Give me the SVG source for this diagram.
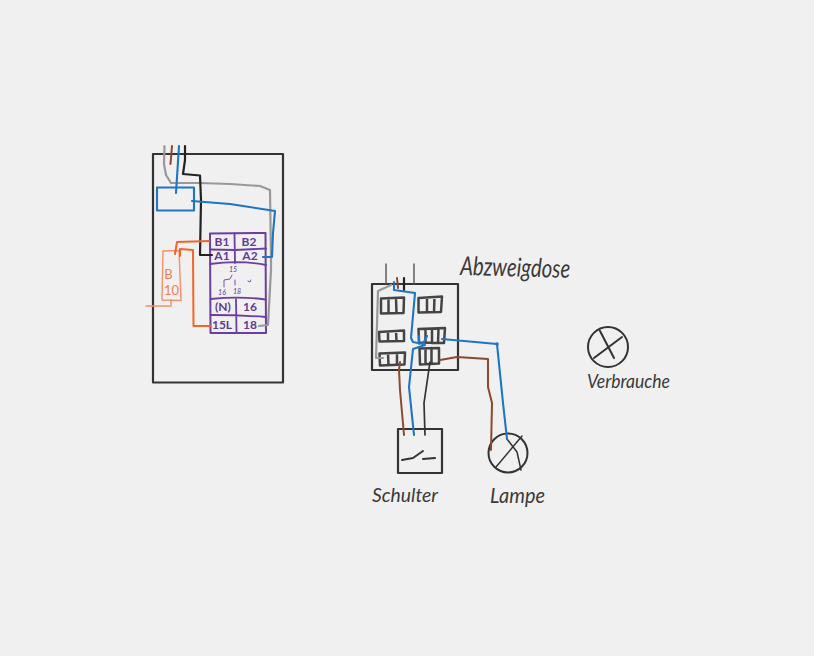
<svg xmlns="http://www.w3.org/2000/svg" width="814" height="656" viewBox="0 0 814 656">
<style>
path,rect,circle{fill:none;stroke-linecap:round;stroke-linejoin:round}
.k{stroke:#333;stroke-width:2}
.box{stroke:#333;stroke-width:2.2}
.t{stroke:#444;stroke-width:2.5}
.blk{stroke:#222;stroke-width:2.2}
.gr{stroke:#999;stroke-width:2.2}
.br{stroke:#8a4a30;stroke-width:2}
.bl{stroke:#1f74c4;stroke-width:2.1}
.or{stroke:#f2652a;stroke-width:2}
.lo{stroke:#f5906a;stroke-width:1.4}
.pu{stroke:#6a3fa0;stroke-width:1.8}
.thin{stroke:#555;stroke-width:1}
text{font-family:"Lato","Liberation Sans",sans-serif}
.lab{fill:#3a3a3a;font-style:italic}
.pt{fill:#5f3a99;font-weight:700;font-size:12px;text-anchor:middle}
.ps{fill:#5f3a99;font-size:7px;text-anchor:middle;font-style:italic}
.ot{fill:#f2804f;font-size:13px;text-anchor:middle}
</style>
<rect width="814" height="656" style="fill:#f0f0f0;stroke:none"/>

<g id="cabinet"><path class="box" d="M153 154L283 154L283 382.500L153 382.500Z"/></g>

<g id="blue-box"><path class="bl" d="M157 187.500L194 187.500L194 210.500L157 210.500Z"/></g>

<g id="relay">
<path class="pu" d="M210 233.500L265.500 233L266 333L210.500 333Z" style="stroke-width:2"/>
<path class="pu" d="M234.500 233.500L235 263M210 249.500L235 250L266 248.500M210 264Q240 260 266 265M210.500 299Q240 296 265.500 299.500M236 299L236.500 332M210.500 315Q240 315 265.500 317"/>
<text class="pt" x="222" y="246">B1</text><text class="pt" x="249" y="246">B2</text>
<text class="pt" x="222" y="260">A1</text><text class="pt" x="250" y="260">A2</text>
<text class="pt" x="223" y="311">(N)</text><text class="pt" x="250" y="311">16</text>
<text class="pt" x="222" y="329">15L</text><text class="pt" x="250" y="329">18</text>
<text class="ps" x="233" y="272">15</text><text class="ps" x="222" y="295">16</text><text class="ps" x="237" y="294">18</text>
<path class="pu" d="M224 287L224 280L230 279L232 275M235 280L235 285M248 281L250 282L251 280" style="stroke-width:.9"/>
</g>

<g id="breaker">
<path class="lo" d="M163 251L179 250.500L181 300.500L162 300Z"/>
<path class="lo" d="M171 300L171 306L146 306"/>
<text class="ot" x="168.500" y="279">B</text><text class="ot" x="171.500" y="295">10</text>
</g>

<g id="junction-box"><path class="box" d="M372 284L458 284L458 370L372 370Z"/></g>
<g id="terminals">
<path class="t" d="M381 298.500L404 297.500L403.500 313L381 313.500ZM388.500 298L388.500 313M396 298L396.500 313"/>
<path class="t" d="M418.500 298L442 296.500L441 312L418.500 312.500ZM427 297.500L427 312.500M434.500 297L434 312"/>
<path class="t" d="M379 332L404 330.500L404 341L379.500 341.500ZM388 331.500L388 341M396 331L396.500 341"/>
<path class="t" d="M418.500 329L445 328L444 343L419 342.500ZM425.500 329L425.500 343M432 328.500L432 343M438.500 328.500L438 343"/>
<path class="t" d="M379.500 353.500L405 352.500L404.500 364.500L380 365.500ZM388 353.500L388.500 365M397 353L397 365"/>
<path class="t" d="M419.500 348.500L439 348L439 363.500L420 364.500ZM425.500 348.500L425.500 364M431.500 348L431.500 364"/>
</g>

<g id="switch">
<path class="box" d="M398 429L442 429L442 473L398 473Z"/>
<path class="k" d="M402 460L413 458L423 451M423 459L435 458"/>
</g>
<g id="lamp">
<circle class="k" cx="508" cy="453" r="19.500"/>
<path class="k" d="M496 467L522 436M507 439L517 452L521 470" style="stroke-width:1.5"/>
</g>
<g id="consumer">
<circle class="k" cx="608" cy="347" r="20"/>
<path class="k" d="M600 331L614 358M594 358L622 337"/>
</g>

<g id="connectors">
<path class="gr" d="M164.500 146L164 164L166 175L171 183L200 183L230 184L260 186L270 190L271 257L271 270L268 325L259 326"/>
<path class="br" d="M172 146L170.500 164"/>
<path class="blk" d="M185 146L185 160L183 174L200 175.500L201 200L200 255L212 255"/>
<path class="bl" d="M179 146L176 193"/>
<path class="bl" d="M192 201L230 204L275 211L273 233L272 257L263 257"/>
<path class="or" d="M175 254L177 242L209 241"/>
<path class="or" d="M180 256L180 249L193 250L193.500 326L211 326"/>
<path class="thin" d="M386 264L386 284M414 264L414 284" style="stroke-width:1.4"/>
<path class="gr" d="M391 285L378 291L376 358L383 358"/>
<path class="br" d="M397 278L398 288"/>
<path class="blk" d="M404 278L404 290"/>
<path class="bl" d="M394 282L394 290L415 293L411 338L413 342L423 344L427 336M419 336L419 344"/>
<path class="bl" d="M425 345L413 349L409 387L414 435"/>
<path class="bl" d="M442 339L497 344L503 403L507 439"/>
<circle cx="497" cy="344" r="1.800" style="fill:#1f74c4;stroke:none"/>
<path class="br" d="M440 360L457 357L488 359L488 387L492 403L491 450"/>
<path class="br" d="M400 362L399 370L400 390L404 435"/>
<path class="k" d="M430 362L424 403L425 435" style="stroke-width:1.7"/>
</g>

<g id="labels">
<text class="lab" x="460" y="275" font-size="26" textLength="110" lengthAdjust="spacingAndGlyphs" transform="rotate(1.500 460 275)">Abzweigdose</text>
<text class="lab" x="372" y="502" font-size="19" textLength="66" lengthAdjust="spacingAndGlyphs">Schulter</text>
<text class="lab" x="490" y="503" font-size="21" textLength="55" lengthAdjust="spacingAndGlyphs">Lampe</text>
<text class="lab" x="587" y="388" font-size="19" textLength="83" lengthAdjust="spacingAndGlyphs">Verbrauche</text>
</g>
</svg>
